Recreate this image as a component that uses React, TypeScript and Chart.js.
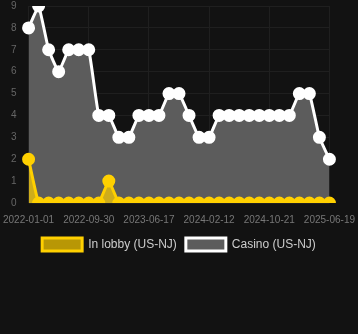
import React, { useEffect, useRef } from "react";
import { Chart, registerables } from "chart.js";

Chart.register(...registerables);

const dates = [
  "2022-01-01", "2022-02-15", "2022-04-01", "2022-05-16", "2022-06-30", "2022-08-15",
  "2022-09-30", "2022-11-12", "2022-12-25", "2023-02-06", "2023-03-21", "2023-05-04",
  "2023-06-17", "2023-07-27", "2023-09-05", "2023-10-15", "2023-11-24", "2024-01-03",
  "2024-02-12", "2024-03-25", "2024-05-06", "2024-06-17", "2024-07-29", "2024-09-09",
  "2024-10-21", "2024-11-30", "2025-01-09", "2025-02-18", "2025-03-30", "2025-05-09",
  "2025-06-19",
];

const inLobby = [
  2, 0, 0, 0, 0, 0, 0, 0, 1, 0, 0, 0, 0, 0, 0, 0, 0, 0, 0, 0, 0, 0, 0, 0, 0, 0, 0, 0, 0, 0, 0,
];

const casino = [
  8, 9, 7, 6, 7, 7, 7, 4, 4, 3, 3, 4, 4, 4, 5, 5, 4, 3, 3, 4, 4, 4, 4, 4, 4, 4, 4, 5, 5, 3, 2,
];

const yTicks = [0, 1, 2, 3, 4, 5, 6, 7, 8, 9];

const LABEL_EVERY = 6;
const FONT = "Liberation Sans, Arial, sans-serif";
const CLEAR = "rgba(0,0,0,0)";

export default function App() {
  const ref = useRef<HTMLCanvasElement | null>(null);

  useEffect(() => {
    document.body.style.margin = "0";
    document.body.style.background = "#121212";
    const canvas = ref.current;
    if (!canvas) return;
    const chart = new Chart(canvas, {
      type: "line",
      data: {
        labels: dates,
        datasets: [
          {
            label: "In lobby (US-NJ)",
            data: inLobby,
            borderColor: "#ffd000",
            backgroundColor: "rgba(255, 208, 0, 0.7)",
            pointBackgroundColor: "#ffd000",
            pointBorderColor: "#ffd000",
            borderWidth: 3,
            pointRadius: 5,
            fill: "origin",
            tension: 0.1,
            order: 0,
          },
          {
            label: "Casino (US-NJ)",
            data: casino,
            borderColor: "#ffffff",
            backgroundColor: "#5c5c5c",
            pointBackgroundColor: "#ffffff",
            pointBorderColor: "#ffffff",
            borderWidth: 3,
            pointRadius: 5,
            fill: "origin",
            tension: 0.1,
            order: 1,
          },
        ],
      },
      options: {
        animation: false,
        responsive: false,
        layout: { autoPadding: false, padding: { top: 0, right: 0, bottom: 73, left: 0 } },
        plugins: {
          tooltip: { enabled: false },
          legend: {
            position: "bottom",
            labels: {
              color: "#cccccc",
              font: { family: FONT, size: 12 },
              boxWidth: 40,
              boxHeight: 13,
              padding: 9,
            },
          },
        },
        scales: {
          x: {
            grid: {
              color: (ctx: any) => (ctx.index % LABEL_EVERY === 0 ? "#1f1f1f" : CLEAR),
              drawTicks: true,
              tickLength: 8,
              tickColor: CLEAR,
            },
            border: { display: false },
            ticks: {
              color: "#777777",
              font: { family: FONT, size: 10 },
              autoSkip: false,
              maxRotation: 0,
              padding: 3,
              callback: (_v: any, i: number) => (i % LABEL_EVERY === 0 ? dates[i] : ""),
            },
          },
          y: {
            min: 0,
            max: 9,
            afterBuildTicks: (axis: any) => {
              axis.ticks = yTicks.map((v) => ({ value: v }));
            },
            grid: { color: "#1f1f1f", drawTicks: true, tickLength: 12, tickColor: CLEAR },
            border: { display: false },
            ticks: {
              color: "#666666",
              font: { family: FONT, size: 10 },
              padding: 0,
            },
          },
        },
      },
    });
    return () => chart.destroy();
  }, []);

  return <canvas ref={ref} width={358} height={334} style={{ display: "block" }} />;
}
